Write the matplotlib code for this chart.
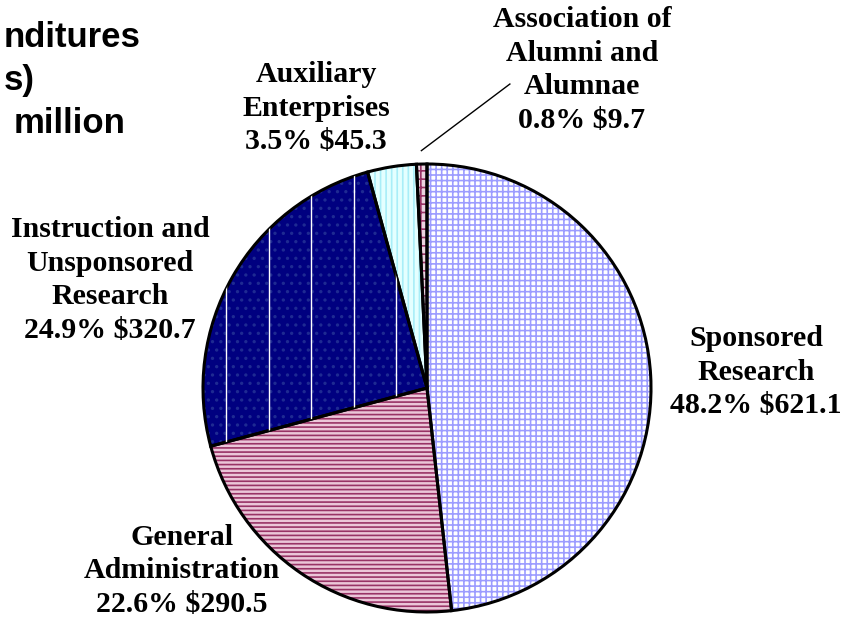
import numpy as np
import matplotlib
matplotlib.use("Agg")
import matplotlib.pyplot as plt

# ---- data ----
categories = ["Sponsored\nResearch", "General\nAdministration",
              "Instruction and\nUnsponsored\nResearch", "Auxiliary\nEnterprises",
              "Association of\nAlumni and\nAlumnae"]
values = [621.1, 290.5, 320.7, 45.3, 9.7]
total = sum(values)
# the title runs off the left edge of the original; only these parts show
title_lines = ["nditures", "s)", "million"]

# ---- style ----
W, H = 842, 621
faces = ["#FFFFFF", "#EBC6D8", "#000080", "#E4FFFF", "#EBD3DF"]
hatch_cols = ["#9C9CFF", "#993366", "#1E2A92", "#A8EEF8", "#993366"]
hatches = ["+++", "----", "..", "|||", "++"]
label_pos = [(756, 372), (182, 571), (110, 280), (316, 108), (582, 70)]
title_pos = [(140, 47), (35, 90), (125, 133)]

fig = plt.figure(figsize=(W / 100, H / 100), dpi=100)
fig.patch.set_facecolor("white")
cx, cy, r = 427, 388, 224
ax = fig.add_axes([(cx - r) / W, (H - cy - r) / H, 2 * r / W, 2 * r / H])

plt.rcParams["hatch.linewidth"] = 1.2
fills, _ = ax.pie(values, startangle=90, counterclock=False, colors=faces,
                  wedgeprops=dict(linewidth=0))
for w, hc, h in zip(fills, hatch_cols, hatches):
    w.set_edgecolor(hc); w.set_hatch(h); w.set_linewidth(0)

# white vertical stripes in the navy wedge
for x in np.arange(-0.897, -0.05, 0.19):
    ln, = ax.plot([x, x], [-1, 1], color="white", lw=1.0)
    ln.set_clip_path(fills[2])

outlines, _ = ax.pie(values, startangle=90, counterclock=False,
                     wedgeprops=dict(facecolor="none", edgecolor="black", linewidth=2.2))
for w in outlines:
    w.set_clip_on(False)
ax.set_xlim(-1, 1); ax.set_ylim(-1, 1); ax.set_aspect("equal"); ax.axis("off")

# labels
for name, v, (x, y) in zip(categories, values, label_pos):
    fig.text(x / W, 1 - y / H, f"{name}\n{100 * v / total:.1f}% ${v:.1f}",
             ha="center", va="center", multialignment="center",
             family="Liberation Serif", fontweight="bold", fontsize=21.5, linespacing=1.33)

# leader for the small slice
mid = np.deg2rad(90 + 360 * values[-1] / total / 2)
ax.plot([1.06 * np.cos(mid), 0.37], [1.06 * np.sin(mid), 1.357], color="black", lw=1.0, clip_on=False)

for s, (x, y) in zip(title_lines, title_pos):
    fig.text(x / W, 1 - y / H, s, ha="right", va="baseline",
             family="Liberation Sans", fontweight="bold", fontsize=25)

fig.savefig("out.png", dpi=100, facecolor="white")
